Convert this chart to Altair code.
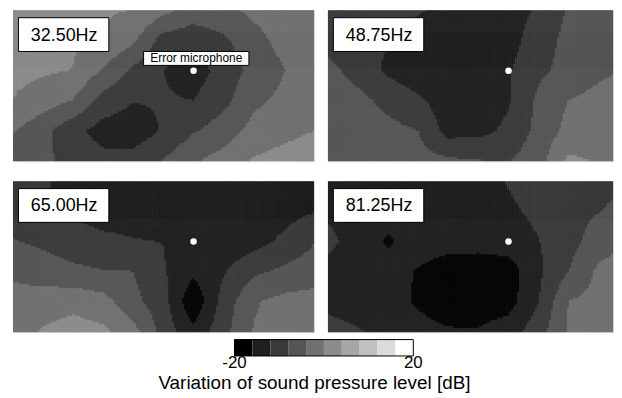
import altair as alt
import pandas as pd

FREQS = ["32.50Hz", "48.75Hz", "65.00Hz", "81.25Hz"]

# Sound-pressure variation [dB] read on a grid: 6 rows (top -> bottom) x 11 columns (left -> right),
# spacing 0.5 in axis-tick units (x from 0 to 5, y from 0 to 2.5)
P1 = [
    [2.4, 2.0, 1.2, 0.4, 0.0, -2.8, -5.6, -4.8, -3.2, -2.4, -2.0],
    [1.6, 1.2, 0.6, 0.1, -3.2, -9.6, -10.8, -8.8, -5.2, -2.8, -2.0],
    [1.2, 0.6, -0.1, -4.4, -8.8, -12.0, -14.0, -10.4, -6.8, -4.1, -2.4],
    [-0.1, -2.0, -4.1, -9.6, -11.8, -11.6, -12.0, -9.2, -4.8, -3.2, -2.0],
    [-3.6, -6.8, -10.8, -13.6, -14.4, -11.6, -8.4, -6.0, -2.8, -1.2, 0.0],
    [-6.4, -7.0, -9.6, -10.8, -10.4, -7.8, -4.4, -2.4, 0.4, 1.6, 2.4],
]
P2 = [
    [-10.0, -10.4, -10.8, -11.6, -13.2, -14.0, -13.6, -11.6, -7.6, -6.4, -5.6],
    [-9.6, -10.4, -11.8, -13.6, -14.4, -14.4, -13.6, -10.0, -6.8, -5.6, -4.8],
    [-6.8, -9.6, -12.8, -14.4, -14.8, -14.4, -12.4, -8.8, -6.8, -4.8, -3.6],
    [-5.6, -6.8, -9.2, -11.4, -14.0, -14.4, -12.4, -7.2, -4.0, -2.8, -2.4],
    [-5.2, -5.6, -6.8, -8.0, -13.6, -13.2, -11.2, -6.8, -2.8, -2.8, -2.4],
    [-4.8, -5.2, -5.6, -6.4, -7.2, -7.8, -8.2, -5.6, 0.8, -0.2, -1.6],
]
P3 = [
    [-10.4, -11.6, -13.2, -14.0, -14.4, -14.4, -14.8, -14.8, -14.4, -14.0, -13.6],
    [-9.6, -11.6, -12.8, -13.6, -13.6, -14.0, -14.8, -14.8, -14.4, -13.6, -12.2],
    [-7.8, -8.8, -10.0, -11.2, -11.8, -12.1, -15.2, -14.8, -13.6, -11.2, -8.2],
    [-4.6, -6.0, -7.2, -7.8, -8.0, -11.6, -15.2, -12.4, -8.8, -7.2, -6.0],
    [-2.8, -2.0, -1.2, -2.4, -6.8, -10.4, -19.2, -10.4, -4.4, -2.8, -2.4],
    [-2.4, 0.4, 1.6, 0.8, -2.4, -9.6, -15.0, -9.2, -3.8, -2.8, -2.4],
]
P4 = [
    [-13.6, -14.0, -14.4, -14.4, -14.0, -13.2, -11.8, -10.4, -9.6, -9.2, -8.8],
    [-12.8, -14.0, -14.8, -14.8, -14.6, -14.0, -12.6, -11.2, -9.2, -8.2, -6.4],
    [-10.8, -14.0, -16.4, -14.4, -14.8, -14.8, -14.0, -12.1, -9.6, -6.0, -3.6],
    [-13.6, -14.4, -14.8, -16.2, -17.6, -17.8, -18.0, -12.8, -8.0, -3.2, -2.4],
    [-13.2, -14.0, -14.8, -16.4, -18.0, -18.2, -17.6, -12.2, -3.9, -2.8, -2.4],
    [-10.4, -11.6, -13.6, -14.8, -15.6, -15.6, -14.0, -9.6, -3.6, -2.4, -2.0],
]
GRIDS = [P1, P2, P3, P4]

MIC_X = [3.0]
MIC_Y = [1.0]

LEVELS = [-20, -16, -12, -8, -4, 0, 4, 8, 12, 16, 20]
GRAYS = ["#000000", "#1f1f1f", "#3a3a3a", "#555555", "#707070",
         "#8b8b8b", "#a6a6a6", "#c1c1c1", "#dcdcdc", "#ffffff"]
BAR_TICKS = ["-20", "20"]
BAR_TITLE = "Variation of sound pressure level [dB]"

FONT = "Liberation Sans"
NCX, NCY = 151, 76          # raster resolution of each panel
PW, PH = 303, 152           # full panel size in px
PW_RIGHT = 287              # right-hand panels are cut by the page edge

# corner values of every grid cell, used by the lookup transform
rows = []
for p, g in enumerate(GRIDS):
    for j in range(len(g) - 1):
        for i in range(len(g[0]) - 1):
            rows.append({"key": p * 100 + j * 10 + i,
                         "v00": g[j][i], "v10": g[j][i + 1],
                         "v01": g[j + 1][i], "v11": g[j + 1][i + 1]})
cells = pd.DataFrame(rows)

gray_scale = alt.Scale(domain=list(range(10)), range=GRAYS)
step = LEVELS[1] - LEVELS[0]


def panel(p, width):
    xmax = 5.0 * width / PW
    xs = alt.Scale(domain=[0, xmax], nice=False, zero=False)
    ys = alt.Scale(domain=[0, 2.5], nice=False, zero=False, reverse=True)
    raster = (
        alt.Chart(alt.sequence(0, NCX * NCY, as_="k"))
        .transform_calculate(
            cx=f"datum.k % {NCX}",
            cy=f"floor(datum.k / {NCX})",
            gx=f"(datum.cx + 0.5) * 10 / {NCX}",
            gy=f"(datum.cy + 0.5) * 5 / {NCY}",
            i0="min(floor(datum.gx), 9)",
            j0="min(floor(datum.gy), 4)",
            fx="datum.gx - datum.i0",
            fy="datum.gy - datum.j0",
            key=f"{p * 100} + datum.j0 * 10 + datum.i0",
            x0=f"datum.cx * 5 / {NCX}",
            x1=f"(datum.cx + 1) * 5 / {NCX}",
            y0=f"datum.cy * 2.5 / {NCY}",
            y1=f"(datum.cy + 1) * 2.5 / {NCY}",
        )
        .transform_filter(f"datum.x0 < {xmax}")
        .transform_lookup(
            lookup="key",
            from_=alt.LookupData(cells, "key", ["v00", "v10", "v01", "v11"]),
        )
        .transform_calculate(
            v="datum.v00*(1-datum.fx)*(1-datum.fy) + datum.v10*datum.fx*(1-datum.fy)"
              " + datum.v01*(1-datum.fx)*datum.fy + datum.v11*datum.fx*datum.fy",
            lvl=f"clamp(floor((datum.v - ({LEVELS[0]})) / {step}), 0, 9)",
        )
        .mark_rect(clip=True, strokeWidth=0.6)
        .encode(
            x=alt.X("x0:Q", scale=xs, axis=None),
            x2="x1:Q",
            y=alt.Y("y0:Q", scale=ys, axis=None),
            y2="y1:Q",
            color=alt.Color("lvl:O", scale=gray_scale, legend=None),
            stroke=alt.Stroke("lvl:O", scale=gray_scale, legend=None),
        )
    )
    lab = pd.DataFrame({"t": [FREQS[p]]})
    box = alt.Chart(lab).mark_rect(fill="white", stroke="black", strokeWidth=1).encode(
        x=alt.value(5.5), x2=alt.value(96.5), y=alt.value(7.5), y2=alt.value(41.5))
    txt = alt.Chart(lab).mark_text(font=FONT, fontSize=18, align="center",
                                   baseline="alphabetic", color="black").encode(
        x=alt.value(51.5), y=alt.value(30.5), text="t:N")
    mic = alt.Chart(pd.DataFrame({"mx": MIC_X, "my": MIC_Y})).mark_circle(
        color="white", opacity=1, size=42).encode(
        x=alt.X("mx:Q", scale=xs, axis=None), y=alt.Y("my:Q", scale=ys, axis=None))
    layers = [raster, box, txt, mic]
    if p == 0:
        ed = pd.DataFrame({"t": ["Error microphone"]})
        layers.append(alt.Chart(ed).mark_rect(fill="white", stroke="black", strokeWidth=1).encode(
            x=alt.value(131.5), x2=alt.value(237.5), y=alt.value(41.5), y2=alt.value(55.5)))
        layers.append(alt.Chart(ed).mark_text(font=FONT, fontSize=12, align="center",
                                              baseline="alphabetic", color="black").encode(
            x=alt.value(184.5), y=alt.value(52.5), text="t:N"))
    return alt.layer(*layers).properties(width=width, height=PH)


bar_df = pd.DataFrame({"lo": LEVELS[:-1], "hi": LEVELS[1:], "lvl": list(range(10))})
bs = alt.Scale(domain=[LEVELS[0], LEVELS[-1]], range=[223, 403])
bar = alt.Chart(bar_df).mark_rect().encode(
    x=alt.X("lo:Q", scale=bs, axis=None), x2="hi:Q",
    y=alt.value(0), y2=alt.value(17),
    color=alt.Color("lvl:O", scale=gray_scale, legend=None))
frame = alt.Chart(pd.DataFrame({"a": [LEVELS[0]], "b": [LEVELS[-1]]})).mark_rect(
    fillOpacity=0, stroke="black", strokeWidth=1).encode(
    x=alt.X("a:Q", scale=bs, axis=None), x2="b:Q", y=alt.value(0.5), y2=alt.value(17))
ticks = alt.Chart(pd.DataFrame({"v": [LEVELS[0], LEVELS[-1]], "t": BAR_TICKS})).mark_text(
    font=FONT, fontSize=17, align="center", baseline="alphabetic", color="black").encode(
    x=alt.X("v:Q", scale=bs, axis=None), y=alt.value(29), text="t:N")
title = alt.Chart(pd.DataFrame({"t": [BAR_TITLE]})).mark_text(
    font=FONT, fontSize=19, align="center", baseline="alphabetic", color="black").encode(
    x=alt.value(303.5), y=alt.value(50), text="t:N")
colorbar = alt.layer(bar, frame, ticks, title).properties(
    width=600, height=40, view=alt.ViewBackground(strokeOpacity=0))

row1 = alt.hconcat(panel(0, PW), panel(1, PW_RIGHT), spacing=12)
row2 = alt.hconcat(panel(2, PW), panel(3, PW_RIGHT), spacing=12)
grid = alt.vconcat(row1, row2, spacing=18)
chart = alt.vconcat(grid, colorbar, spacing=6).properties(
    padding={"left": 4, "top": 0, "right": 0, "bottom": 0}
).configure_view(stroke="#d4d4d4", strokeWidth=1)

chart.save("out.html", embed_options={"renderer": "svg", "actions": False})
